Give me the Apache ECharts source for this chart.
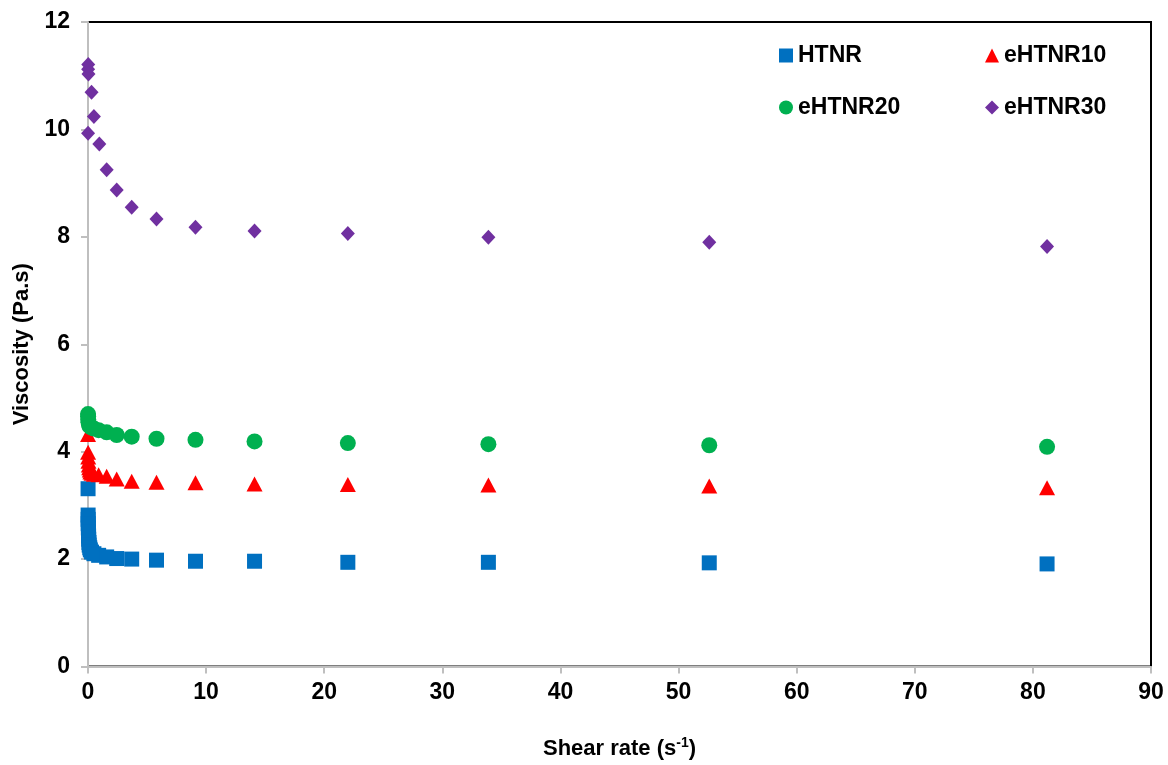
<!DOCTYPE html>
<html>
<head>
<meta charset="utf-8">
<script src="https://cdn.jsdelivr.net/npm/echarts@6/dist/echarts.min.js"></script>
<style>
  html, body { margin: 0; padding: 0; background: #fff; }
  #main { width: 1168px; height: 765px; }
</style>
</head>
<body>
<div id="main"></div>
<script>
// shear rate (1/s) and viscosity (Pa.s)
var htnrX = [0.005, 0.01, 0.015, 0.02, 0.03, 0.04, 0.05, 0.06, 0.08, 0.1, 0.15, 0.2, 0.3, 0.5, 0.9, 1.58, 2.43, 3.7, 5.8, 9.1, 14.1, 22.0, 33.9, 52.6, 81.2];
var htnrY = [3.31, 2.82, 2.74, 2.66, 2.58, 2.50, 2.43, 2.37, 2.31, 2.26, 2.21, 2.17, 2.13, 2.10, 2.07, 2.04, 2.01, 2.00, 1.98, 1.96, 1.96, 1.94, 1.94, 1.93, 1.91];

var e10X = [0.005, 0.01, 0.02, 0.04, 0.07, 0.1, 0.15, 0.2, 0.3, 0.5, 0.9, 1.58, 2.43, 3.7, 5.8, 9.1, 14.1, 22.0, 33.9, 52.6, 81.2];
var e10Y = [4.32, 3.99, 3.90, 3.82, 3.75, 3.70, 3.66, 3.62, 3.60, 3.58, 3.57, 3.54, 3.49, 3.45, 3.43, 3.42, 3.40, 3.39, 3.38, 3.36, 3.33];

var e20X = [0.005, 0.01, 0.02, 0.04, 0.08, 0.15, 0.3, 0.5, 0.9, 1.58, 2.43, 3.7, 5.8, 9.1, 14.1, 22.0, 33.9, 52.6, 81.2];
var e20Y = [4.70, 4.66, 4.60, 4.55, 4.50, 4.47, 4.45, 4.43, 4.40, 4.36, 4.31, 4.28, 4.24, 4.22, 4.19, 4.16, 4.14, 4.12, 4.09];

var e30X = [0.005, 0.01, 0.02, 0.04, 0.3, 0.5, 0.96, 1.58, 2.43, 3.7, 5.8, 9.1, 14.1, 22.0, 33.9, 52.6, 81.2];
var e30Y = [9.93, 11.12, 11.21, 11.03, 10.69, 10.24, 9.73, 9.25, 8.87, 8.55, 8.33, 8.18, 8.11, 8.06, 7.99, 7.90, 7.82];

var names = ['HTNR', 'eHTNR10', 'eHTNR20', 'eHTNR30'];
var colors = ['#0070C0', '#FF0000', '#00B050', '#7030A0'];
var symbols = ['rect', 'triangle', 'circle', 'diamond'];
var sizes = [[15, 15], [16, 15], [16, 16], [14, 15]];

function pairs(xs, ys) {
  return xs.map(function (x, i) { return [x, ys[i]]; });
}
var dataSets = [pairs(htnrX, htnrY), pairs(e10X, e10Y), pairs(e20X, e20Y), pairs(e30X, e30Y)];

var font = '"Liberation Sans", Arial, sans-serif';
var legendPos = [[779, 44], [985, 44], [779, 96], [985, 96]];

var myChart = echarts.init(document.getElementById('main'));

var option = {
  animation: false,
  backgroundColor: '#fff',
  textStyle: { fontFamily: font },
  grid: {
    left: 88, right: 17, top: 22, bottom: 97,
    show: true, borderColor: '#000', borderWidth: 2, backgroundColor: 'transparent'
  },
  legend: names.map(function (n, i) {
    return {
      data: [n],
      left: legendPos[i][0], top: legendPos[i][1],
      itemWidth: 14, itemHeight: 14, itemGap: 5,
      padding: 0,
      textStyle: { fontSize: 23, fontWeight: 'bold', color: '#000', fontFamily: font }
    };
  }),
  xAxis: {
    type: 'value', min: 0, max: 90, interval: 10,
    name: '{a|Shear rate (s}{sup|-1}{a|)}',
    nameLocation: 'middle', nameGap: 70,
    nameTextStyle: {
      rich: {
        a: { fontSize: 22, fontWeight: 'bold', color: '#000', fontFamily: font },
        sup: { fontSize: 14, fontWeight: 'bold', color: '#000', fontFamily: font, padding: [0, 0, 11, 0] }
      }
    },
    axisLine: { lineStyle: { color: '#bfbfbf', width: 2 } },
    axisTick: { show: true, inside: false, length: 7, lineStyle: { color: '#bfbfbf', width: 2 } },
    axisLabel: { margin: 15, fontSize: 23, fontWeight: 'bold', color: '#000', fontFamily: font },
    splitLine: { show: false }
  },
  yAxis: {
    type: 'value', min: 0, max: 12, interval: 2,
    name: 'Viscosity (Pa.s)',
    nameLocation: 'middle', nameGap: 55,
    nameTextStyle: { fontSize: 22, fontWeight: 'bold', color: '#000', fontFamily: font },
    axisLine: { show: true, lineStyle: { color: '#bfbfbf', width: 2 } },
    axisTick: { show: true, inside: false, length: 7, lineStyle: { color: '#bfbfbf', width: 2 } },
    axisLabel: { margin: 18, fontSize: 23, fontWeight: 'bold', color: '#000', fontFamily: font },
    splitLine: { show: false }
  },
  series: names.map(function (n, i) {
    return {
      name: n,
      type: 'scatter',
      symbol: symbols[i],
      symbolSize: sizes[i],
      itemStyle: { color: colors[i], opacity: 1 },
      data: dataSets[i]
    };
  })
};

myChart.setOption(option);
</script>
</body>
</html>
